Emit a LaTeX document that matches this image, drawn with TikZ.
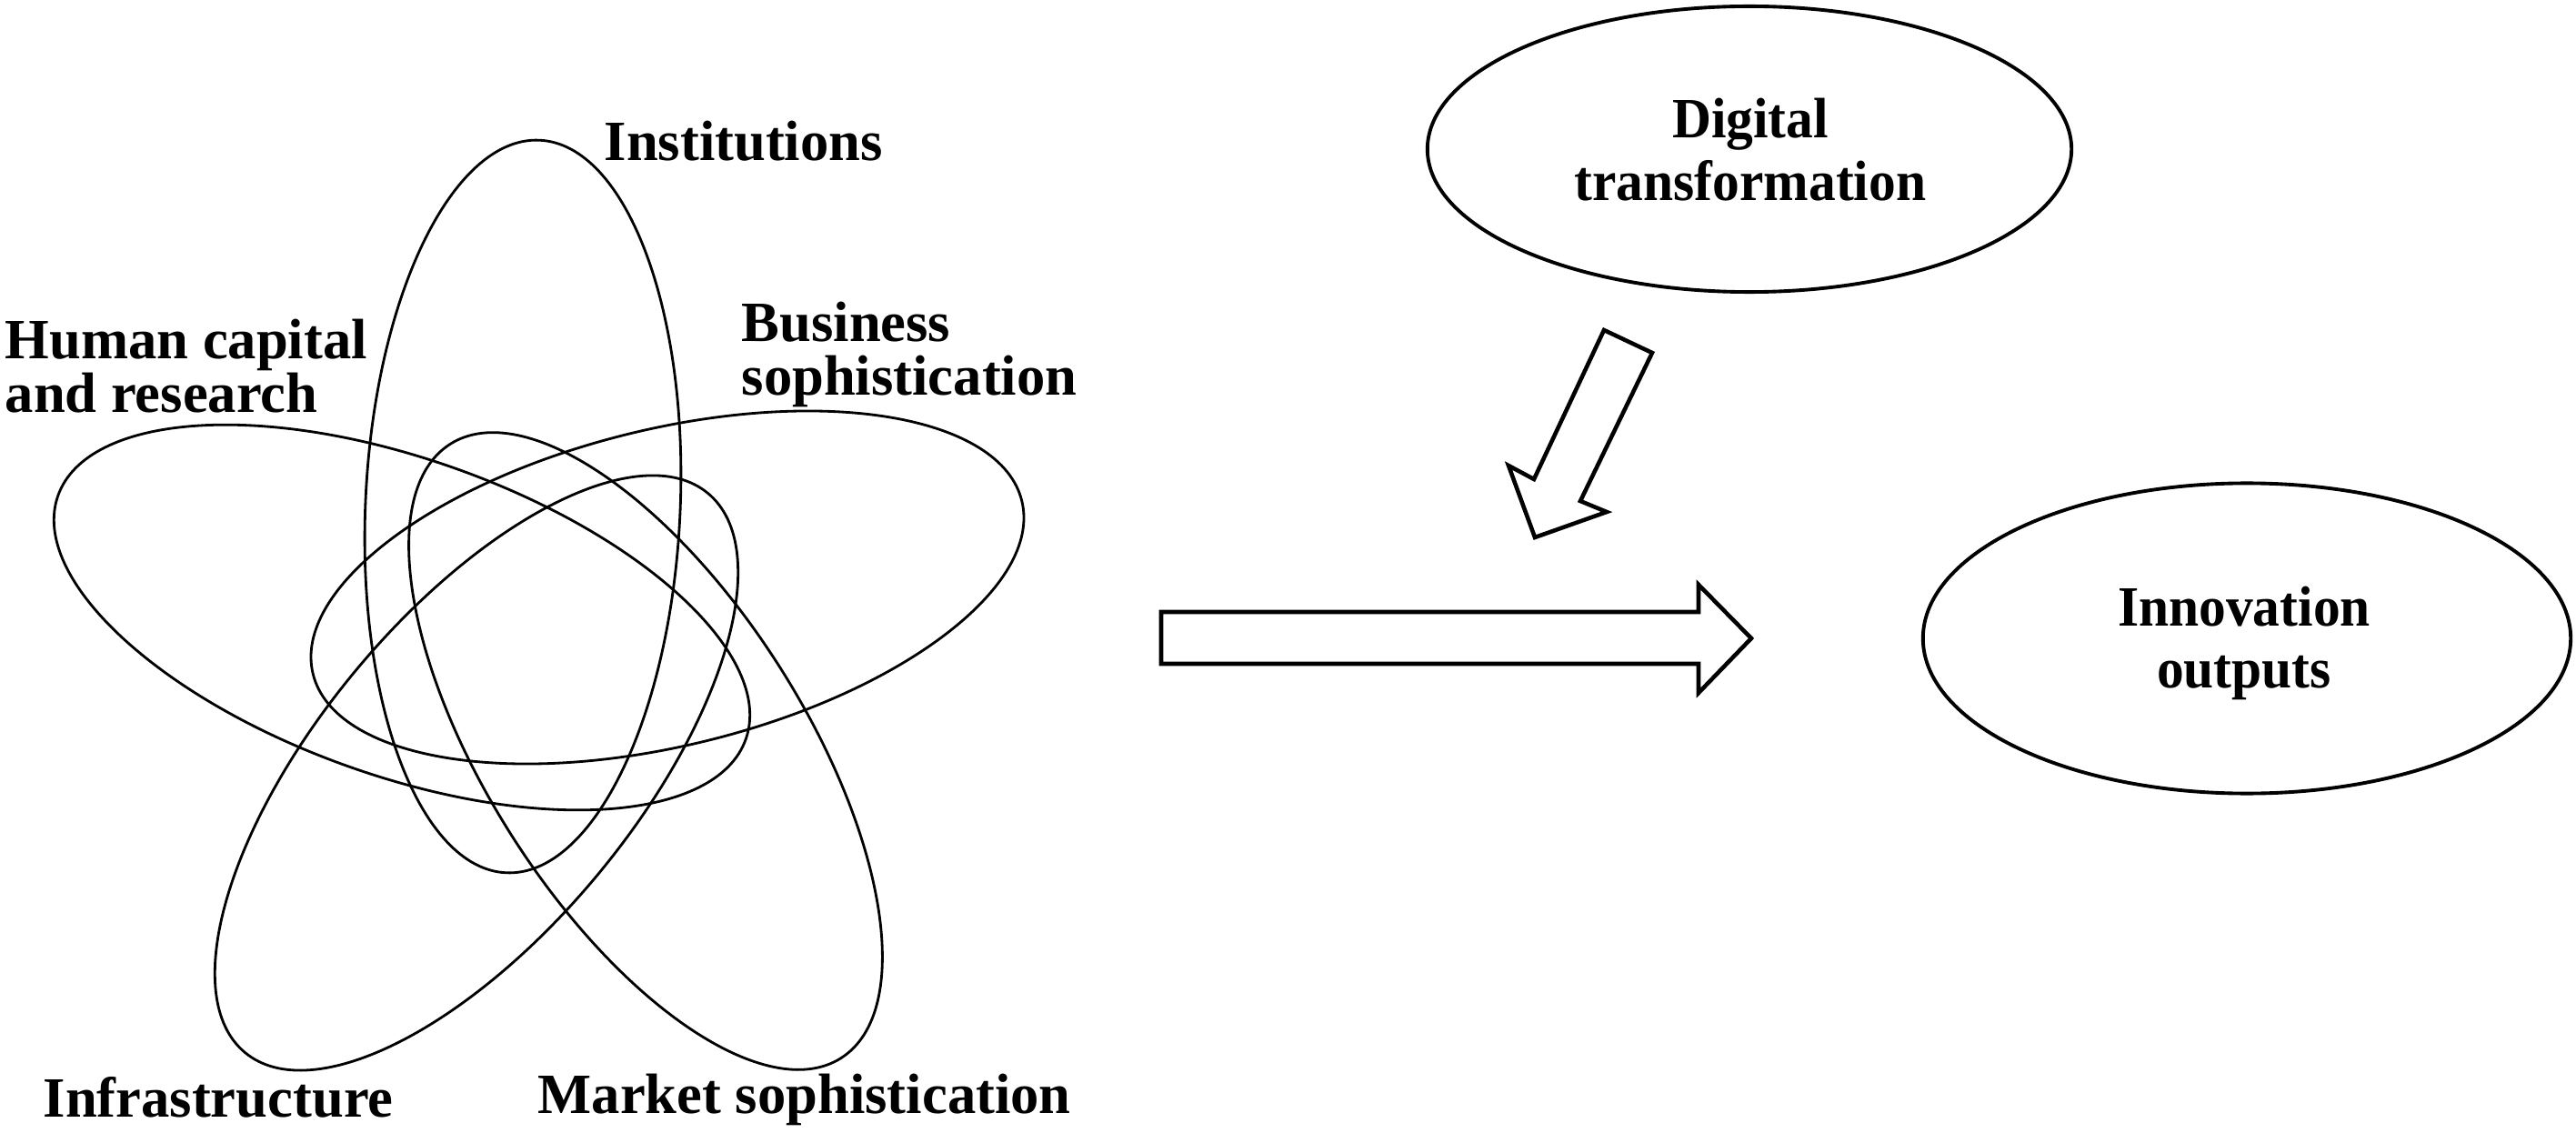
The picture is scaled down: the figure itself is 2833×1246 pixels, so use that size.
\documentclass[tikz,border=0pt]{standalone}
\usepackage{fontspec}
\setmainfont{Liberation Serif}
\newfontfamily\condfont{Liberation Serif}[FakeStretch=0.95]
\usetikzlibrary{shapes.geometric}
\newcommand{\stackL}[2]{\vtop{\lineskiplimit=-\maxdimen\hbox{#1}\hbox{#2}}}
\newcommand{\stackC}[2]{\vtop{\lineskiplimit=-\maxdimen\halign{\hfil##\hfil\cr #1\cr #2\cr}}}
\begin{document}
\begin{tikzpicture}[x=0.01cm,y=-0.01cm,
  petal/.style={draw=black, line width=0.8pt},
  bigell/.style={draw=black, line width=1.1pt, ellipse, inner sep=0pt},
  lbl/.style={inner sep=0pt, anchor=base west, font=\fontsize{17.8pt}{16.5pt}\selectfont\bfseries},
  rlbl/.style={inner sep=0pt, anchor=base, font=\condfont\fontsize{17.8pt}{19.6pt}\selectfont\bfseries},
  blockarrow/.style={draw=black, line width=1.3pt, line join=miter, fill=white}]
\useasboundingbox (0,0) rectangle (2833,1246);
\fill[white] (0,0) rectangle (2833,1246);

% five overlapping petals
\draw[petal, shift={(575,557)}, rotate=87.4]  (0,0) ellipse [x radius=4.03cm, y radius=1.73cm];
\draw[petal, shift={(442,679)}, rotate=-19.5] (0,0) ellipse [x radius=4.01cm, y radius=1.74cm];
\draw[petal, shift={(734,646)}, rotate=13.7]  (0,0) ellipse [x radius=4.01cm, y radius=1.74cm];
\draw[petal, shift={(710,826)}, rotate=-57.5] (0,0) ellipse [x radius=4.00cm, y radius=1.74cm];
\draw[petal, shift={(524,850)}, rotate=50.4]  (0,0) ellipse [x radius=3.99cm, y radius=1.74cm];

% petal labels
\node[lbl] (inst) at (664,177) {Institutions};
\node[lbl] (hum)  at (5,395)   {\stackL{Human capital}{and research}};
\node[lbl] (bus)  at (815,376) {\stackL{Business}{sophistication}};
\node[lbl] (infra) at (47,1228) {Infrastructure};
\node[lbl] (mkt)  at (591,1224) {Market sophistication};

% right-hand ellipses
\node[bigell, minimum width=7.08cm, minimum height=3.14cm] (dt) at (1924,164) {};
\node[rlbl] (dttext) at (1925,152) {\stackC{Digital}{transformation}};
\node[bigell, minimum width=7.12cm, minimum height=3.41cm] (io) at (2471,702) {};
\node[rlbl] (iotext) at (2468,688) {\stackC{Innovation}{outputs}};

% block arrows
\draw[blockarrow] (1764,363) -- (1817,388) -- (1738,551) -- (1767,563) -- (1688,591)
  -- (1659,512) -- (1687,527) -- cycle;
\draw[blockarrow] (1277,673) -- (1868,673) -- (1868,643) -- (1926,702) -- (1868,762)
  -- (1868,730) -- (1277,730) -- cycle;
\end{tikzpicture}
\end{document}
